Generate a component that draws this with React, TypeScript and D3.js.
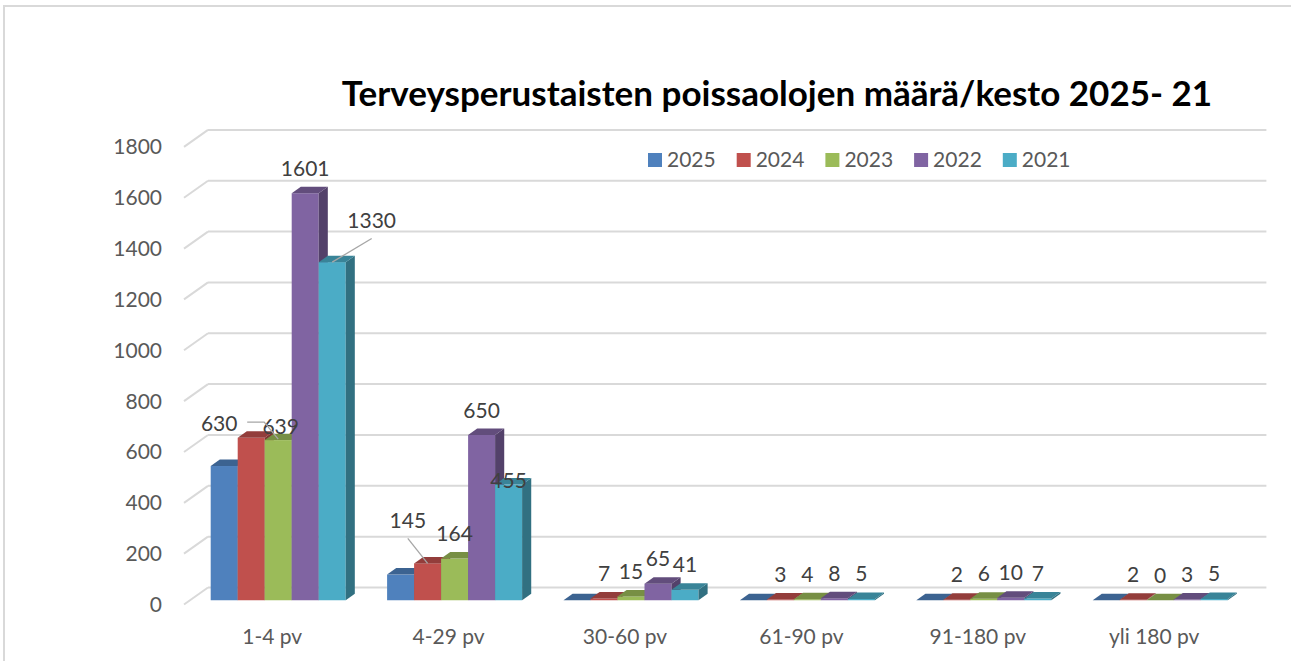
import React, { useEffect, useRef } from "react";
import * as d3 from "d3";

// chart data
const categories = ["1-4 pv", "4-29 pv", "30-60 pv", "61-90 pv", "91-180 pv", "yli 180 pv"];
const seriesNames = ["2025", "2024", "2023", "2022", "2021"];
const values2025 = [528, 101, 0, 0, 0, 0];
const values2024 = [639, 145, 7, 3, 2, 2];
const values2023 = [630, 164, 15, 4, 6, 0];
const values2022 = [1601, 650, 65, 8, 10, 3];
const values2021 = [1330, 455, 41, 5, 7, 5];
const yTicks = [0, 200, 400, 600, 800, 1000, 1200, 1400, 1600, 1800];
const titleText = "Terveysperustaisten poissaolojen määrä/kesto 2025- 21";

const colors = ["#4F81BD", "#C0504D", "#9BBB59", "#8064A2", "#4BACC6"];
const showLabels = [false, true, true, true, true];

// manual nudges for labels Excel moved around: [dx, dy, leader type]
const labelNudges: Record<string, [number, number, string]> = {
  "1-0": [29.5, 13.3, ""],
  "2-0": [-59, 8, "side"],
  "4-0": [39.5, -16.6, "below"],
  "1-1": [-19.8, -18, "below"],
  "4-1": [0, 20.8, ""],
};

const FONT = "Lato, 'Open Sans', sans-serif";

function App() {
  const ref = useRef<SVGSVGElement>(null);

  useEffect(() => {
    const svg = d3.select(ref.current);
    svg.selectAll("*").remove();

    const seriesValues = [values2025, values2024, values2023, values2022, values2021];

    // 3d projection: depth 0 = front of floor, depth 1 = back wall
    const depthX = 24;
    const depthY = -17;
    const y0 = 604.5;
    const xLeft = 184;
    const xRight = 1242.4;
    const dFront = 0.25;
    const dBack = 0.63;

    const h = d3.scaleLinear().domain([0, 1800]).range([0, 457.6]);
    const x = d3.scalePoint<string>().domain(categories).range([xLeft, xRight]).padding(0.5);
    const sx = d3.scaleBand<string>().domain(seriesNames).range([-67.5, 67.5]);
    const bw = sx.bandwidth();

    // chart border
    svg.append("path")
      .attr("d", `M4,661 L4,6 L1291,6`)
      .attr("fill", "none")
      .attr("stroke", "#D9D9D9")
      .attr("stroke-width", 2);

    // title
    svg.append("text")
      .attr("x", 777)
      .attr("y", 106)
      .attr("text-anchor", "middle")
      .attr("font-family", FONT)
      .attr("font-weight", 700)
      .attr("font-size", 35)
      .attr("fill", "#000")
      .text(titleText);

    // gridlines on back wall + left wall diagonals
    const grid = svg.append("g");
    yTicks.forEach((t) => {
      const yf = y0 - h(t);
      const yb = yf + depthY;
      grid.append("line")
        .attr("x1", xLeft + depthX).attr("x2", xRight + depthX)
        .attr("y1", yb).attr("y2", yb)
        .attr("stroke", "#D9D9D9").attr("stroke-width", 2);
      grid.append("line")
        .attr("x1", xLeft).attr("x2", xLeft + depthX)
        .attr("y1", yf).attr("y2", yb)
        .attr("stroke", "#D9D9D9").attr("stroke-width", 2);
      grid.append("text")
        .attr("x", 162)
        .attr("y", yf + 7.5)
        .attr("text-anchor", "end")
        .attr("font-family", FONT)
        .attr("font-size", 21)
        .attr("fill", "#595959")
        .text(t);
    });

    // category labels
    categories.forEach((c) => {
      svg.append("text")
        .attr("x", x(c)!)
        .attr("y", 644)
        .attr("text-anchor", "middle")
        .attr("font-family", FONT)
        .attr("font-size", 21)
        .attr("fill", "#595959")
        .text(c);
    });

    // bars
    const ddx = depthX * (dBack - dFront);
    const ddy = depthY * (dBack - dFront);
    const bars = svg.append("g");
    categories.forEach((c, ci) => {
      seriesNames.forEach((s, si) => {
        const v = seriesValues[si][ci];
        const col = d3.color(colors[si])!;
        const x0 = x(c)! + sx(s)! + depthX * dFront;
        const x1 = x0 + bw;
        const yb = y0 + depthY * dFront;
        const yt = yb - h(v);
        if (v > 0) {
          bars.append("rect")
            .attr("x", x0).attr("y", yt)
            .attr("width", bw).attr("height", yb - yt)
            .attr("fill", colors[si]);
          bars.append("path")
            .attr("d", `M${x1},${yt}L${x1 + ddx},${yt + ddy}L${x1 + ddx},${yb + ddy}L${x1},${yb}Z`)
            .attr("fill", col.darker(1.2).toString());
        }
        bars.append("path")
          .attr("d", `M${x0},${yt}L${x1},${yt}L${x1 + ddx},${yt + ddy}L${x0 + ddx},${yt + ddy}Z`)
          .attr("fill", col.darker(0.75).toString());
      });
    });

    // data labels
    const labels = svg.append("g");
    categories.forEach((c, ci) => {
      seriesNames.forEach((s, si) => {
        if (!showLabels[si]) return;
        const v = seriesValues[si][ci];
        const cx = x(c)! + sx(s)! + depthX * dFront + bw / 2;
        const top = y0 + depthY * dFront - h(v);
        const nudge = labelNudges[`${si}-${ci}`] || [0, 0, ""];
        const lx = cx + nudge[0];
        const ly = top - 25 + nudge[1];
        if (nudge[2] === "below") {
          labels.append("line")
            .attr("x1", lx).attr("y1", ly + 18)
            .attr("x2", cx).attr("y2", top)
            .attr("stroke", "#A6A6A6").attr("stroke-width", 1.3);
        } else if (nudge[2] === "side") {
          labels.append("polyline")
            .attr("points", `${lx + 28},${ly - 1} ${lx + 45},${ly - 1} ${cx},${top - 1}`)
            .attr("fill", "none")
            .attr("stroke", "#A6A6A6").attr("stroke-width", 1.3);
        }
        labels.append("text")
          .attr("x", lx)
          .attr("y", ly + 7.5)
          .attr("text-anchor", "middle")
          .attr("font-family", FONT)
          .attr("font-size", 21)
          .attr("fill", "#404040")
          .text(v);
      });
    });

    // legend
    const legend = svg.append("g");
    seriesNames.forEach((s, si) => {
      const lx = 648 + si * 88.7;
      legend.append("rect")
        .attr("x", lx).attr("y", 153)
        .attr("width", 14).attr("height", 14)
        .attr("fill", colors[si]);
      legend.append("text")
        .attr("x", lx + 19)
        .attr("y", 167.3)
        .attr("font-family", FONT)
        .attr("font-size", 21)
        .attr("fill", "#595959")
        .text(s);
    });
  }, []);

  return (
    <div style={{ position: "absolute", left: 0, top: 0 }}>
      <svg ref={ref} width={1291} height={661} style={{ display: "block", background: "#fff" }} />
    </div>
  );
}

export default App;
